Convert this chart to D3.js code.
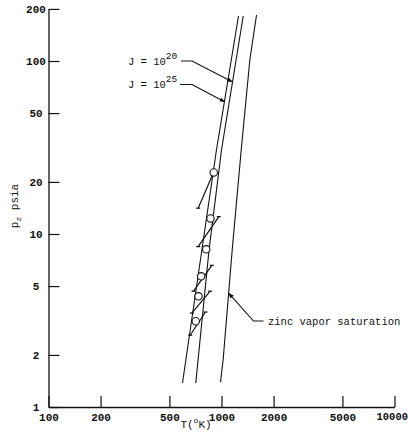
<!DOCTYPE html>
<html><head><meta charset="utf-8">
<script src="https://cdn.jsdelivr.net/npm/d3@7"></script>
<style>
body{margin:0;background:#fff;}
svg{display:block;}
text{fill:#111;}
</style></head>
<body>
<script>
// ---- data ----
const xTickValues = [100, 200, 500, 1000, 2000, 5000, 10000];
const yTickValues = [1, 2, 5, 10, 20, 50, 100, 200];

// J = 10^20 nucleation line (T in K, p in psia)
const j20T = [1335, 1000, 847, 710];
const j20P = [182, 30.6, 8.08, 1.376];
// J = 10^25 nucleation line
const j25T = [1254, 935, 595];
const j25P = [182, 30.6, 1.376];
// zinc vapor saturation curve
const zincT = [1594, 1458, 1300, 1153, 1023, 987];
const zincP = [184.5, 101.3, 30.6, 8.08, 1.894, 1.395];

// measured points
const pointT = [902, 864, 816, 763, 736, 710];
const pointP = [22.7, 12.3, 8.16, 5.69, 4.36, 3.13];
// run segments (start / end)
const segT0 = [733, 733, 689, 674, 659];
const segP0 = [14.1, 8.45, 4.67, 3.49, 2.60];
const segT1 = [887, 965, 879, 860, 808];
const segP1 = [21.9, 12.6, 6.59, 4.67, 3.54];

// label anchor points on curves
const labelTexts = ["J = 10", "J = 10", "zinc vapor saturation"];
const labelExp = ["20", "25", ""];
const labelAnchorT = [1153, 1041, 1102];
const labelAnchorP = [75.9, 58.2, 4.54];

// ---- drawing ----
const W = 408, H = 442;
const svg = d3.select("body").append("svg").attr("width", W).attr("height", H);

const x = d3.scaleLog().domain([100, 10000]).range([48.5, 394.5]);
const y = d3.scaleLog().domain([1, 200]).range([407, 407 - 173 * Math.log10(200)]);

const ink = "#111";
const mono = "'Liberation Mono', 'DejaVu Sans Mono', monospace";

// axes
const xAxis = d3.axisBottom(x).tickValues(xTickValues).tickFormat(d3.format("d"))
  .tickSizeInner(-11).tickSizeOuter(0).tickPadding(6);
const yAxis = d3.axisLeft(y).tickValues(yTickValues).tickFormat(d3.format("d"))
  .tickSizeInner(-11).tickSizeOuter(0).tickPadding(12);

const gx = svg.append("g").attr("transform", `translate(0,${y(1)})`).call(xAxis);
const gy = svg.append("g").attr("transform", `translate(${x(100)},0)`).call(yAxis);
[gx, gy].forEach(g => {
  g.select(".domain").attr("stroke", ink).attr("stroke-width", 1.3);
  g.selectAll(".tick line").attr("stroke", ink).attr("stroke-width", 1.2);
  g.selectAll(".tick text").attr("font-family", mono).attr("font-size", 11)
    .attr("font-weight", "bold").attr("fill", ink);
});
gy.selectAll(".tick text").attr("text-anchor", "middle").attr("x", -12.5);
// last x label sits against the right edge, as in the reference
gx.selectAll(".tick text").filter(d => d === 10000)
  .attr("text-anchor", "end").attr("x", 13).attr("font-size", 10.5);

// axis titles
const xt = svg.append("text").attr("x", 196).attr("y", 428).attr("text-anchor", "middle")
  .attr("font-family", mono).attr("font-size", 11);
xt.append("tspan").text("T(");
xt.append("tspan").attr("dy", -5).attr("font-size", 8).text("o");
xt.append("tspan").attr("dy", 5).text("K)");

const yt = svg.append("text").attr("transform", "translate(18,206) rotate(-90)")
  .attr("text-anchor", "middle").attr("font-family", mono).attr("font-size", 11);
yt.append("tspan").text("p");
yt.append("tspan").attr("dy", 3).attr("font-size", 8).text("z");
yt.append("tspan").attr("dy", -3).text(" psia");

// curves
const lineGen = d3.line().x(d => x(d[0])).y(d => y(d[1]));
const curves = [
  d3.zip(j20T, j20P),
  d3.zip(j25T, j25P),
  d3.zip(zincT, zincP)
];
svg.append("g").selectAll("path").data(curves).join("path")
  .attr("d", lineGen).attr("fill", "none").attr("stroke", ink).attr("stroke-width", 1.1);

// run segments with small caps
const segs = segT0.map((t, i) => [[t, segP0[i]], [segT1[i], segP1[i]]]);
const sg = svg.append("g");
sg.selectAll("path").data(segs).join("path")
  .attr("d", lineGen).attr("fill", "none").attr("stroke", ink).attr("stroke-width", 1.2);
const caps = segs.flat();
sg.selectAll("line.cap").data(caps).join("line").attr("class", "cap")
  .attr("x1", d => x(d[0]) - 2).attr("x2", d => x(d[0]) + 2)
  .attr("y1", d => y(d[1])).attr("y2", d => y(d[1]))
  .attr("stroke", ink).attr("stroke-width", 1.2);

// points
svg.append("g").selectAll("circle").data(d3.zip(pointT, pointP)).join("circle")
  .attr("cx", d => x(d[0])).attr("cy", d => y(d[1])).attr("r", 3.7)
  .attr("fill", "#fff").attr("stroke", ink).attr("stroke-width", 1.1);

// labels with leaders
svg.append("defs").append("marker").attr("id", "ah").attr("viewBox", "0 0 10 10")
  .attr("refX", 9).attr("refY", 5).attr("markerWidth", 5).attr("markerHeight", 5)
  .attr("orient", "auto").append("path").attr("d", "M0,1 L10,5 L0,9 Z").attr("fill", ink);

const labelBoxes = [
  {tx: 128, ty: 65, lx0: 181, ly: 61, lx1: 192},
  {tx: 128, ty: 88, lx0: 180, ly: 84.5, lx1: 192},
  {tx: 268, ty: 325, lx0: 263.5, ly: 321, lx1: 253.5}
];
labelTexts.forEach((txt, i) => {
  const b = labelBoxes[i];
  const t = svg.append("text").attr("x", b.tx).attr("y", b.ty)
    .attr("font-family", mono).attr("font-size", 10.5);
  t.append("tspan").text(txt);
  if (labelExp[i]) t.append("tspan").attr("dy", -6).attr("font-size", 9.5).text(labelExp[i]);
  const ax = x(labelAnchorT[i]), ay = y(labelAnchorP[i]);
  svg.append("path")
    .attr("d", `M${b.lx0},${b.ly} L${b.lx1},${b.ly} L${ax},${ay}`)
    .attr("fill", "none").attr("stroke", ink).attr("stroke-width", 1.1)
    .attr("marker-end", "url(#ah)");
});
</script>
</body></html>
